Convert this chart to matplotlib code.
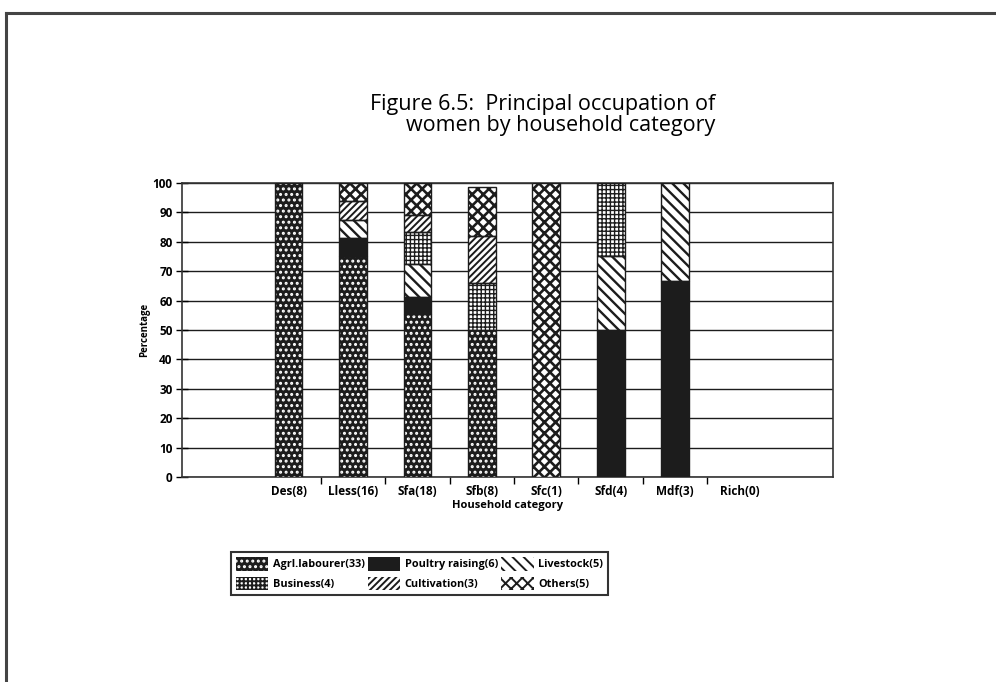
import matplotlib
matplotlib.use("Agg")
import numpy as np
from matplotlib import pyplot as plt
from matplotlib.patches import Patch
from matplotlib.lines import Line2D

plt.rcParams['font.family'] = ['Open Sans', 'DejaVu Sans']
plt.rcParams['hatch.linewidth'] = 1.4

categories = ["Des(8)", "Lless(16)", "Sfa(18)", "Sfb(8)", "Sfc(1)", "Sfd(4)", "Mdf(3)", "Rich(0)"]

# percentage of women in each household category by principal occupation
agri_labourer = [100, 75.0, 55.6, 50.0, 0, 0, 0, 0]
poultry = [0, 6.25, 5.6, 0, 0, 50.0, 66.7, 0]
livestock = [0, 6.25, 11.1, 0, 0, 25.0, 33.3, 0]
business = [0, 0, 11.1, 16.0, 0, 25.0, 0, 0]
cultivation = [0, 6.25, 5.6, 16.0, 0, 0, 0, 0]
others = [0, 6.25, 11.1, 16.5, 100, 0, 0, 0]

legend_labels = ["Agrl.labourer(33)", "Poultry raising(6)", "Livestock(5)",
                 "Business(4)", "Cultivation(3)", "Others(5)"]

dark = "#1c1c1c"
# (face, hatch, hatch colour, hatch linewidth)
styles = [
    (dark, "...", "white", 1.4),
    (dark, None, dark, 1.4),
    ("white", "\\\\\\", dark, 1.7),
    ("white", "++++", dark, 1.0),
    ("white", "/////", dark, 1.4),
    ("white", "xxx", dark, 1.9),
]
series = [agri_labourer, poultry, livestock, business, cultivation, others]

fig = plt.figure(figsize=(9.96, 6.82), dpi=100)
ax = fig.add_axes([0.183, 0.3006, 0.6533, 0.4311])

x = np.arange(len(categories))
width = 0.43
bottom = np.zeros(len(categories))
for vals, (face, hatch, hcol, hlw) in zip(series, styles):
    vals = np.array(vals, dtype=float)
    keep = vals > 0
    with plt.rc_context({'hatch.linewidth': hlw}):
        ax.bar(x[keep], vals[keep], width, bottom=bottom[keep], color=face,
               hatch=hatch, edgecolor=hcol, linewidth=0, zorder=3)
    ax.bar(x[keep], vals[keep], width, bottom=bottom[keep], fill=False,
           edgecolor=dark, linewidth=1.0, zorder=4)
    bottom += vals

# empty room at each end of the category axis
ax.set_xlim(-1.65, 8.45)
ax.set_ylim(0, 100)
ax.set_yticks(range(0, 101, 10))
ax.set_xticks(x)
ax.set_xticklabels(categories, fontsize=8.5, fontweight='bold')
ax.set_xticks(np.arange(0.5, 7, 1), minor=True)
ax.tick_params(axis='x', which='major', length=0, pad=6)
ax.tick_params(axis='x', which='minor', length=5, width=1, direction='out')
ax.tick_params(axis='y', length=8, width=1, direction='inout', labelsize=8.5, pad=3)
for lab in ax.get_yticklabels():
    lab.set_fontweight('bold')
ax.grid(True, axis='y', color=dark, linewidth=1.0, zorder=0)
for sp in ax.spines.values():
    sp.set_linewidth(1.2)
    sp.set_color("#333333")

ax.set_xlabel("Household category", fontsize=8, fontweight='bold', labelpad=1)
ax.set_ylabel("Percentage", fontsize=7, fontweight='bold', labelpad=2)

fig.text(0.545, 0.832, "Figure 6.5:  Principal occupation of\nwomen by household category",
         ha='center', va='center', multialignment='right', fontsize=15.5,
         linespacing=1.0)

handles = []
for (face, hatch, hcol, hlw), lab in zip(styles, legend_labels):
    with plt.rc_context({'hatch.linewidth': hlw}):
        handles.append(Patch(facecolor=face, hatch=hatch, edgecolor=hcol,
                             linewidth=0, label=lab))
# matplotlib fills legend columns first
order = [0, 3, 1, 4, 2, 5]
leg = fig.legend([handles[i] for i in order], [legend_labels[i] for i in order],
                 ncol=3, loc='upper left', bbox_to_anchor=(0.232, 0.19),
                 fancybox=False, edgecolor="#333333", framealpha=1,
                 prop={'size': 7.8, 'weight': 'bold'}, handlelength=3.0,
                 handleheight=1.5, columnspacing=0.3, handletextpad=0.4,
                 borderpad=0.45, borderaxespad=0, labelspacing=0.6)
leg.get_frame().set_linewidth(1.5)

# outer frame: top and left edges only
fig.add_artist(Line2D([0.006, 1.0], [0.981, 0.981], color="#444444", linewidth=2.2))
fig.add_artist(Line2D([0.006, 0.006], [0.0, 0.981], color="#444444", linewidth=2.2))

fig.savefig("out.png", dpi=100)
